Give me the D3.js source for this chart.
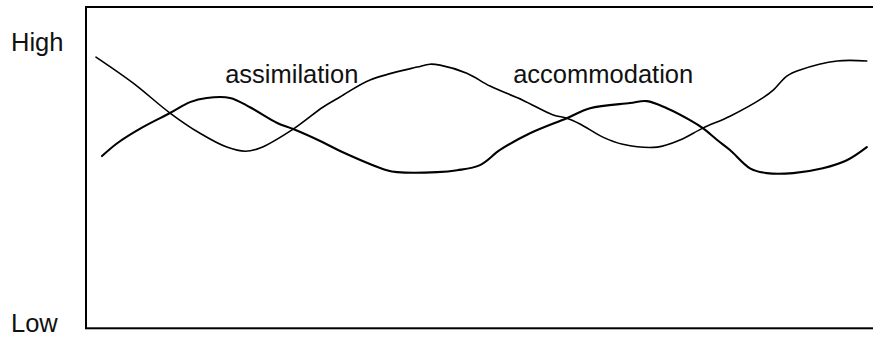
<!DOCTYPE html>
<html>
<head>
<meta charset="utf-8">
<script src="https://cdn.jsdelivr.net/npm/d3@7"></script>
<style>
  body { margin: 0; background: #fff; }
  svg { display: block; }
</style>
</head>
<body>
<div id="chart"></div>
<script>
// time runs 0..100 across the box, level 0 (low) .. 100 (high)
const highStartX = [1.25, 5.9, 10.5, 14.25, 17.6, 19.9, 21.75, 25.9, 29.6, 31.75, 35.5, 41.4, 43.0, 44.25, 47.6, 50.5, 54.6, 58.4, 60.1, 61.75, 64.6, 67.1, 71.4, 74.25, 77.1, 80.5, 84.6, 85.9, 87.6, 89.25, 93.9, 97.6];
const highStartY = [84.4, 76.3, 67.0, 60.7, 56.4, 55.1, 56.1, 62.0, 68.8, 72.0, 77.3, 81.3, 82.2, 81.9, 79.4, 75.4, 71.0, 66.4, 65.4, 63.6, 59.5, 57.3, 56.4, 58.6, 62.3, 66.0, 71.7, 74.1, 78.5, 80.4, 83.2, 83.2];

const lowStartX = [2.0, 3.9, 7.1, 10.5, 13.0, 15.1, 18.0, 20.5, 23.9, 25.9, 29.6, 32.1, 37.6, 38.9, 43.9, 46.4, 49.25, 51.75, 55.5, 60.1, 63.0, 68.0, 70.1, 72.6, 75.5, 77.1, 78.9, 80.5, 83.0, 85.1, 88.4, 92.1, 95.1, 97.6];
const lowStartY = [53.6, 57.6, 62.6, 67.0, 70.4, 71.7, 71.7, 68.8, 63.9, 62.0, 57.9, 54.8, 49.2, 48.6, 48.6, 49.2, 50.8, 55.5, 60.7, 65.4, 68.5, 70.1, 70.7, 68.5, 64.8, 62.3, 58.6, 55.5, 49.8, 48.3, 48.3, 49.8, 52.3, 56.4];

const levelLabels = ["High", "Low"];
const levelValues = [89, 1.5];

const curveNames = ["assimilation", "accommodation"];
const curveNameX = [17.4, 53.4];
const curveNameY = [76.3, 76.3];

const width = 873, height = 337;
const font = "'Liberation Sans', Arial, sans-serif";

const x = d3.scaleLinear().domain([0, 100]).range([86, 886]);
const y = d3.scaleLinear().domain([0, 100]).range([328.3, 7]);

const svg = d3.select("#chart")
    .append("svg")
    .attr("width", width)
    .attr("height", height);

svg.append("rect")
    .attr("x", x(0))
    .attr("y", y(100))
    .attr("width", x(100) - x(0))
    .attr("height", y(0) - y(100))
    .attr("fill", "none")
    .attr("stroke", "#000")
    .attr("stroke-width", 2);

let line = d3.line()
    .x(d => x(d[0]))
    .y(d => y(d[1]))
    .curve(d3.curveCatmullRom.alpha(0.5));

let series = [
    { pts: d3.zip(highStartX, highStartY), w: 1.6 },
    { pts: d3.zip(lowStartX, lowStartY), w: 2.1 }
];

svg.append("g")
    .selectAll("path")
    .data(series)
    .join("path")
    .attr("d", d => line(d.pts))
    .attr("fill", "none")
    .attr("stroke", "#000")
    .attr("stroke-width", d => d.w)
    .attr("stroke-linejoin", "round")
    .attr("stroke-linecap", "round");

svg.append("g")
    .style("font", `25.5px ${font}`)
    .attr("fill", "#111")
    .selectAll("text")
    .data(levelLabels)
    .join("text")
    .attr("x", 11)
    .attr("y", (d, i) => y(levelValues[i]))
    .attr("dy", "0.35em")
    .text(d => d);

svg.append("g")
    .style("font", `25.5px ${font}`)
    .attr("fill", "#111")
    .selectAll("text")
    .data(curveNames)
    .join("text")
    .attr("x", (d, i) => x(curveNameX[i]))
    .attr("y", (d, i) => y(curveNameY[i]))
    .text(d => d);
</script>
</body>
</html>
